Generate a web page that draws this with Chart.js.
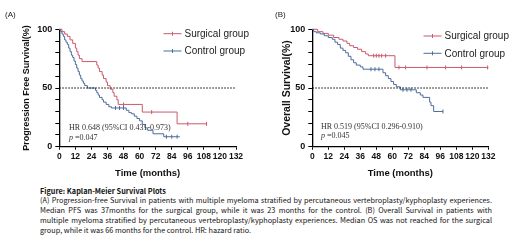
<!DOCTYPE html>
<html>
<head>
<meta charset="utf-8">
<script src="https://cdn.jsdelivr.net/npm/chart.js@4.4.1/dist/chart.umd.min.js"></script>
<style>
  html, body { margin: 0; padding: 0; background: #fff; }
  body { width: 520px; height: 247px; position: relative; overflow: hidden; font-family: "Liberation Sans", Arial, sans-serif; }
  .panel { position: absolute; top: 0; }
  .tag { position: absolute; top: 10px; font-size: 8px; line-height: 10px; color: #222; }
  .hr { position: absolute; font-family: "Liberation Serif", serif; font-size: 8px; line-height: 9.5px; color: #333; white-space: nowrap; }
  .caption { position: absolute; left: 40px; top: 186.5px; width: 452px; font-family: "Noto Sans CJK SC", "Noto Sans", sans-serif; font-size: 7.3px; line-height: 9.75px; color: #111; }
  .caption div { white-space: nowrap; text-align: justify; text-align-last: justify; }
  .caption div.first { font-weight: bold; text-align-last: left; }
  .caption div.last { text-align-last: left; }
</style>
</head>
<body>
<canvas id="pfs" class="panel" style="left:0px" width="260" height="184"></canvas>
<canvas id="os" class="panel" style="left:260px" width="260" height="184"></canvas>

<div class="tag" style="left:5px">(A)</div>
<div class="tag" style="left:275px">(B)</div>

<div class="hr" style="left:69px; top:123px">HR 0.648 (95%CI 0.431-0.973)<br><i>p</i> =0.047</div>
<div class="hr" style="left:321px; top:121.5px">HR 0.519 (95%CI 0.296-0.910)<br><i>p</i> =0.045</div>

<div class="caption">
  <div class="first">Figure: Kaplan-Meier Survival Plots</div>
  <div>(A) Progression-free Survival in patients with multiple myeloma stratified by percutaneous vertebroplasty/kyphoplasty experiences.</div>
  <div>Median PFS was 37months for the surgical group, while it was 23 months for the control. (B) Overall Survival in patients with</div>
  <div>multiple myeloma stratified by percutaneous vertebroplasty/kyphoplasty experiences. Median OS was not reached for the surgical</div>
  <div class="last">group, while it was 66 months for the control. HR: hazard ratio.</div>
</div>

<script>
// group names + colours
const groups = ['Surgical group', 'Control group'];
const red = '#c95b6c';
const blue = '#4e6c9d';

// axis ticks
const monthTicks = [0, 12, 24, 36, 48, 60, 72, 84, 96, 108, 120, 132];
const survLabels = [0, 50, 100];
const medianLevel = 50;

// (A) progression free survival, step times (months) and survival (%)
const pfsSurgTime = [0, 2, 4, 6, 8, 10, 12, 13, 14, 15, 17, 28, 29, 30, 32, 33, 35, 36, 38, 40, 41, 43, 44, 62, 88, 110];
const pfsSurgSurv = [100, 98, 96, 94, 91, 88, 84, 81, 78, 75, 72.5, 69.5, 67, 64, 61, 58, 55, 52, 49, 46, 43, 40, 36, 29.5, 19.5, 19.5];
const pfsSurgCens = [48, 69, 96, 110];

const pfsCtrlTime = [0, 1, 2, 3, 4, 5, 6, 7, 8, 9, 10, 11, 12, 13, 14, 15, 16, 17, 18, 19, 21, 27, 28, 29, 30, 32, 33, 35, 37, 39, 50, 52, 54, 56, 58, 60, 62, 64, 66, 70, 78, 90];
const pfsCtrlSurv = [100, 98, 96, 94, 91, 89, 87, 84, 81, 78, 76, 73, 70, 67, 64, 61, 58, 56, 54, 52, 50, 48, 46, 44, 42, 40, 38, 36, 34, 33, 31, 29, 28, 26, 24, 22, 19, 16, 14, 11, 8.5, 8.5];
const pfsCtrlCens = [42, 45, 48, 80, 84, 88];

// (B) overall survival
const osSurgTime = [0, 4, 8, 12, 16, 20, 23, 26, 28, 31, 34, 37, 40, 42, 62, 132];
const osSurgSurv = [100, 98, 96.5, 95, 93, 91.5, 90, 88, 86, 84.5, 83, 81, 79, 77.5, 67.5, 67.5];
const osSurgCens = [46, 48, 50, 52, 55, 65, 70, 86, 100, 112, 131.5];

const osCtrlTime = [0, 1, 3, 6, 9, 12, 15, 17, 19, 21, 23, 25, 27, 29, 31, 33, 36, 38, 53, 55, 57, 59, 61, 63, 66, 78, 81, 83, 88, 89, 91, 98];
const osCtrlSurv = [100, 98, 97, 96, 94.5, 93, 91.5, 89, 87, 84, 82, 80, 77, 74, 71.5, 69.5, 68, 66, 63, 60.5, 58, 55.5, 53, 51, 48.5, 46, 44, 42, 38, 35, 30, 30];
const osCtrlCens = [44, 47, 50, 68, 71, 74, 98];

function steps(times, surv) {
  return times.map((t, i) => ({ x: t, y: surv[i] }));
}

function survAt(times, surv, t) {
  let s = surv[0];
  for (let i = 0; i < times.length; i++) if (times[i] <= t) s = surv[i];
  return s;
}

function censored(times, surv, cens) {
  return cens.map(t => ({ x: t, y: survAt(times, surv, t) }));
}

// legend drawn inside the plot, line with a censor tick
const kmLegend = {
  id: 'kmLegend',
  afterDraw(chart, args, opts) {
    const ctx = chart.ctx;
    ctx.save();
    opts.colors.forEach((c, i) => {
      const y = opts.y + i * opts.gap;
      ctx.strokeStyle = c;
      ctx.lineWidth = 1;
      ctx.beginPath();
      ctx.moveTo(opts.x, y); ctx.lineTo(opts.x + 18, y);
      ctx.moveTo(opts.x + 9, y - 2); ctx.lineTo(opts.x + 9, y + 2);
      ctx.stroke();
      ctx.fillStyle = '#222';
      ctx.font = '10px "Liberation Sans", Arial, sans-serif';
      ctx.textBaseline = 'middle';
      ctx.fillText(groups[i], opts.x + 21, y + 0.5);
    });
    ctx.restore();
  }
};

function kmChart(id, yTitle, titleSize, surg, ctrl, yWidth, padRight, titlePad, legend) {
  new Chart(document.getElementById(id), {
    type: 'line',
    data: {
      datasets: [
        { data: [{ x: 0, y: medianLevel }, { x: 132, y: medianLevel }], borderColor: '#000', borderWidth: 1, borderDash: [1.5, 1.5], pointRadius: 0 },
        { data: steps(ctrl.t, ctrl.s), borderColor: blue, borderWidth: 1, stepped: 'before', pointRadius: 0, clip: 6 },
        { data: censored(ctrl.t, ctrl.s, ctrl.c), showLine: false, pointStyle: 'line', rotation: 90, pointRadius: 2, borderColor: blue, borderWidth: 1, clip: 6 },
        { data: steps(surg.t, surg.s), borderColor: red, borderWidth: 1, stepped: 'before', pointRadius: 0, clip: 6 },
        { data: censored(surg.t, surg.s, surg.c), showLine: false, pointStyle: 'line', rotation: 90, pointRadius: 2, borderColor: red, borderWidth: 1, clip: 6 }
      ]
    },
    options: {
      responsive: false,
      animation: false,
      layout: { padding: { top: 29.3, right: padRight, left: 0, bottom: 0 } },
      plugins: { legend: { display: false }, tooltip: { enabled: false }, kmLegend: legend },
      scales: {
        x: {
          type: 'linear', min: 0, max: 132,
          afterBuildTicks: s => { s.ticks = monthTicks.map(v => ({ value: v })); },
          afterFit: s => { s.height = 37.3; },
          grid: { drawOnChartArea: false, tickLength: 3, color: '#000' },
          border: { color: '#000', width: 1.3 },
          ticks: { color: '#111', font: { family: 'Liberation Sans', size: 8.5, weight: 'bold' }, padding: 2, maxRotation: 0, autoSkip: false },
          title: { display: true, text: 'Time (months)', color: '#111', font: { family: 'Liberation Sans', size: 9.5, weight: 'bold', lineHeight: 1.2 }, padding: { top: 0, bottom: 5.3 } }
        },
        y: {
          min: 0, max: 100,
          afterFit: s => { s.width = yWidth; },
          ticks: { stepSize: 10, autoSkip: false, padding: 3, color: '#111', font: { family: 'Liberation Sans', size: 9, weight: 'bold' }, callback: v => survLabels.includes(v) ? v : '' },
          grid: { drawOnChartArea: false, tickLength: 4, color: '#000' },
          border: { color: '#000', width: 1.3 },
          title: { display: true, text: yTitle, color: '#111', font: { family: 'Liberation Sans', size: titleSize, weight: 'bold', lineHeight: 1.2 }, padding: { top: titlePad, bottom: 0 } }
        }
      }
    },
    plugins: [kmLegend]
  });
}

kmChart('pfs', 'Progression Free Survival(%)', 9,
  { t: pfsSurgTime, s: pfsSurgSurv, c: pfsSurgCens },
  { t: pfsCtrlTime, s: pfsCtrlSurv, c: pfsCtrlCens },
  59.3, 24, 21.6, { x: 163.5, y: 33.7, gap: 17.3, colors: [red, blue] });

kmChart('os', 'Overall Survival(%)', 10.5,
  { t: osSurgTime, s: osSurgSurv, c: osSurgCens },
  { t: osCtrlTime, s: osCtrlSurv, c: osCtrlCens },
  52.3, 31.7, 20.4, { x: 163.5, y: 36, gap: 17.3, colors: [red, blue] });
</script>
</body>
</html>
